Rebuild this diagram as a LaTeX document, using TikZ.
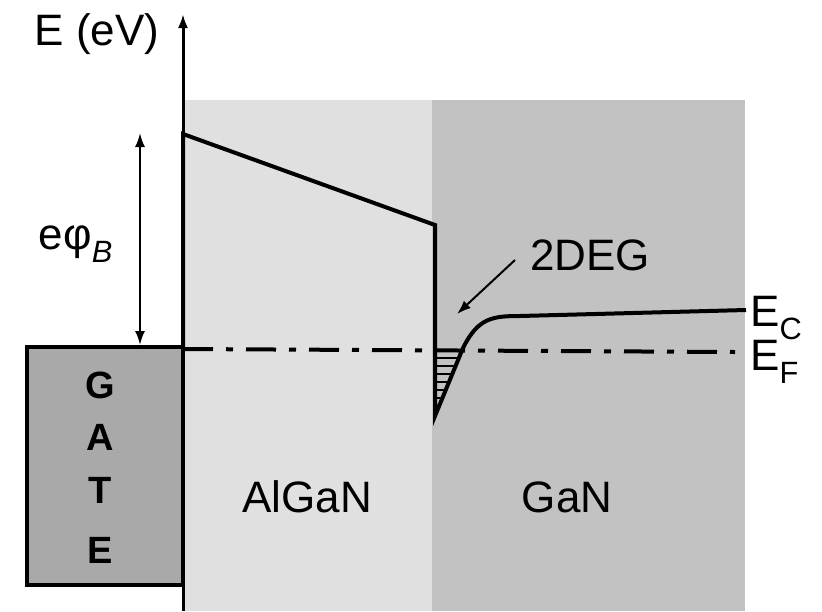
\documentclass[tikz,border=0pt]{standalone}
\usepackage{fontspec}
\setmainfont{Liberation Sans}
\usetikzlibrary{arrows.meta,positioning}

\definecolor{alganfill}{HTML}{E0E0E0}
\definecolor{ganfill}{HTML}{C2C2C2}
\definecolor{gatefill}{HTML}{A9A9A9}

\begin{document}
\begin{tikzpicture}[x=1pt, y=-1pt,
  every node/.style={inner sep=0pt, font=\fontsize{44}{46}\selectfont},
  band/.style={line width=4pt, line join=miter},
  fermi/.style={line width=4pt, dash pattern=on 30pt off 13pt on 7pt off 13pt},
  tip/.style={-{Latex[length=14pt, width=10pt]}},
  gateletter/.style={font=\fontsize{38}{40}\selectfont\bfseries}]
\useasboundingbox (0,0) rectangle (822,611);

% layers
\fill[alganfill] (183,100) rectangle (432,611);
\fill[ganfill] (432,100) rectangle (745,611);
\draw[line width=4pt, fill=gatefill] (27,347) rectangle (183,585);

% energy axis
\coordinate (axisbot) at (183,611);
\coordinate (axistop) at (183,14);
\draw[line width=3pt, tip] (axisbot) -- (axistop);
\node (elabel) at (97,34) {E (eV)};

% Fermi level
\coordinate (fstart) at (183,349);
\coordinate (fend) at (735,352);
\draw[fermi] (fstart) -- (fend);

% 2DEG well (hatch)
\foreach \y/\x in {358/457, 366/454, 374/451, 382/448, 390/445, 398/442, 406/439}
  \draw[line width=1.5pt] (436,\y) -- (\x,\y);

% conduction band
\coordinate (ec0) at (183,347);
\coordinate (ec1) at (183,134);
\coordinate (ec2) at (435,225);
\coordinate (ec3) at (435,416);
\coordinate (ec4) at (463,348);
\coordinate (ec5) at (520,316);
\coordinate (ec6) at (746,310);
\draw[band] (ec0) -- (ec1) -- (ec2) -- (ec3) -- (ec4)
  .. controls (478,318) and (492,316) .. (ec5) -- (ec6);

% barrier height
\coordinate (phitop) at (140,133);
\coordinate (phibot) at (140,345);
\draw[line width=2pt, {Latex[length=14pt, width=10pt]}-{Latex[length=14pt, width=10pt]}] (phibot) -- (phitop);
\node (phib) at (76,244) {eφ\textsubscript{\itshape B}};

% 2DEG label
\node (deg) at (590,255) {2DEG};
\coordinate (degtip) at (457,314);
\coordinate (degtail) at (515,260);
\draw[line width=2pt, tip] (degtail) -- (degtip);

% band labels
\node[anchor=west] (eclabel) at (750,318) {E\textsubscript{C}};
\node[anchor=west] (eflabel) at (750,362) {E\textsubscript{F}};

% materials
\node (algan) at (307,497) {AlGaN};
\node (gan) at (567,497) {GaN};

% gate
\node[gateletter] (g1) at (100,385) {G};
\node[gateletter] (g2) at (100,437) {A};
\node[gateletter] (g3) at (100,490) {T};
\node[gateletter] (g4) at (100,550) {E};
\end{tikzpicture}
\end{document}
